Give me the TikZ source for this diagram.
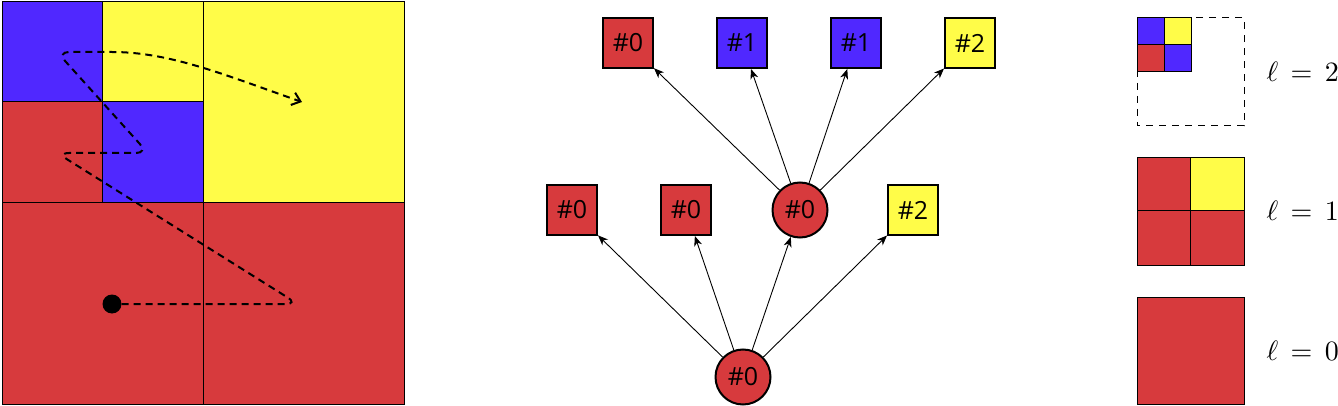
\documentclass[tikz,border=0pt]{standalone}
\usepackage{fontspec}
\newfontfamily\nodefont{Open Sans}
\usetikzlibrary{arrows.meta}
\definecolor{cred}{RGB}{215,58,61}
\definecolor{cblue}{RGB}{80,40,255}
\definecolor{cyellow}{RGB}{255,252,72}
\begin{document}
\begin{tikzpicture}[x=1pt,y=-1pt,
  cell/.style={draw=black, line width=1pt},
  sq/.style={draw, line width=2pt, minimum size=50pt, inner sep=0pt, font={\nodefont\fontsize{25}{29}\selectfont}},
  rnd/.style={circle, draw, line width=2pt, minimum size=55pt, inner sep=0pt, font={\nodefont\fontsize{25}{29}\selectfont}},
  edge/.style={line width=0.9pt, -{Stealth[length=10pt,width=8pt,inset=3pt]}},
  zpath/.style={line width=2pt, dash pattern=on 7pt off 5pt, rounded corners=12pt},
  lbl/.style={anchor=west, inner sep=0pt, scale=2.8}]
\useasboundingbox (0,0) rectangle (1338,406);
% ---- left quadtree square ----
\fill[cred] (2,203) rectangle (404,404);
\fill[cyellow] (203,2) rectangle (404,203);
\fill[cblue] (2,2) rectangle (102,102);
\fill[cyellow] (102,2) rectangle (203,102);
\fill[cred] (2,102) rectangle (102,203);
\fill[cblue] (102,102) rectangle (203,203);
\draw[cell] (2,2) rectangle (404,404);
\draw[cell] (203,2) -- (203,404);
\draw[cell] (2,203) -- (404,203);
\draw[cell] (102,2) -- (102,203);
\draw[cell] (2,102) -- (203,102);
\node[circle, fill=black, minimum size=19pt, inner sep=0pt] (dot) at (112,304) {};
\coordinate (zend) at (302,102);
\draw[zpath, -{Straight Barb[length=8pt,width=13pt]}] (dot) -- (298,304) -- (57,153) -- (148,153) -- (57,52) -- (100,52) .. controls (170,52) and (225,75) .. (zend);
% ---- tree ----
\node[rnd, fill=cred] (r) at (743,377) {\#0};
\node[sq, fill=cred] (a) at (572,210) {\#0};
\node[sq, fill=cred] (b) at (686,210) {\#0};
\node[rnd, fill=cred] (c) at (800,210) {\#0};
\node[sq, fill=cyellow] (d) at (913,210) {\#2};
\node[sq, fill=cred] (c1) at (628,43) {\#0};
\node[sq, fill=cblue] (c2) at (742,43) {\#1};
\node[sq, fill=cblue] (c3) at (856,43) {\#1};
\node[sq, fill=cyellow] (c4) at (970,43) {\#2};
\foreach \t in {a,b,c,d} \draw[edge] (r) -- (\t);
\foreach \t in {c1,c2,c3,c4} \draw[edge] (c) -- (\t);
% ---- legend ----
\draw[line width=1pt, dash pattern=on 7pt off 6pt] (1137,18) rectangle (1244,126);
\fill[cblue] (1137,18) rectangle (1164,45);
\fill[cyellow] (1164,18) rectangle (1191,45);
\fill[cred] (1137,45) rectangle (1164,72);
\fill[cblue] (1164,45) rectangle (1191,72);
\draw[cell] (1137,18) rectangle (1191,72);
\draw[cell] (1164,18) -- (1164,72);
\draw[cell] (1137,45) -- (1191,45);
\fill[cred] (1137,158) rectangle (1244,265);
\fill[cyellow] (1190,158) rectangle (1244,211);
\draw[cell] (1137,158) rectangle (1244,265);
\draw[cell] (1190,158) -- (1190,265);
\draw[cell] (1137,211) -- (1244,211);
\fill[cred] (1137,297) rectangle (1244,404);
\draw[cell] (1137,297) rectangle (1244,404);
\node[lbl] (l2) at (1266,72) {$\ell\,=\,2$};
\node[lbl] (l1) at (1266,211) {$\ell\,=\,1$};
\node[lbl] (l0) at (1266,351) {$\ell\,=\,0$};
\end{tikzpicture}
\end{document}
